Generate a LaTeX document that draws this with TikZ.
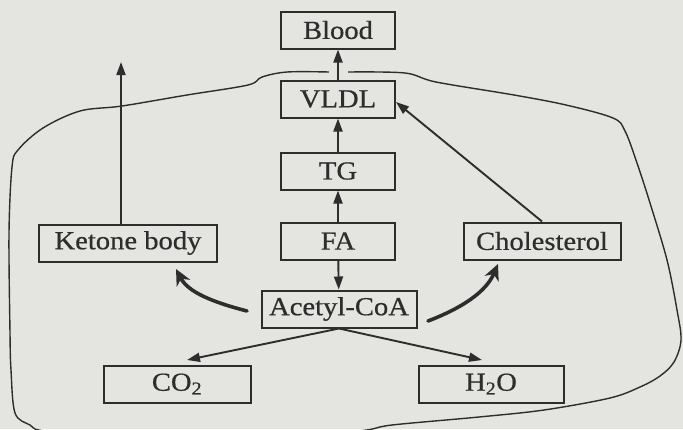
\documentclass[tikz,border=0pt]{standalone}
\usepackage{fontspec}
\setmainfont{Liberation Serif}[FakeStretch=1.1, FakeBold=0.6]
\usetikzlibrary{arrows.meta}
\definecolor{ink}{RGB}{45,45,45}
\definecolor{paper}{RGB}{228,228,224}

\begin{document}
\begin{tikzpicture}[x=1pt,y=-1pt,
  box/.style={draw=ink, line width=2pt, minimum height=37pt, inner sep=0pt,
    text=ink, font=\fontsize{26}{28}\selectfont},
  colbox/.style={box, minimum width=114pt},
  flow/.style={draw=ink, line width=1.9pt, -{Triangle[length=13pt,width=9pt]}},
  swing/.style={draw=ink, line width=3.6pt, line cap=round,
    -{Stealth[length=16pt,width=15pt,inset=5pt]}},
  boundary/.style={draw=ink, line width=1.4pt}]

\fill[paper] (0,0) rectangle (683,429);
\useasboundingbox (0,0) rectangle (683,429);

% central column
\node[colbox] (blood) at (338,30)  {Blood};
\node[colbox] (vldl)  at (338,99)  {VLDL};
\node[colbox] (tg)    at (338,171) {TG};
\node[colbox] (fa)    at (338,241) {FA};
\node[box, minimum width=155pt] (acoa) at (339,309) {Acetyl-CoA};

% side products
\node[box, minimum width=178pt] (ket)  at (128,243) {Ketone body};
\node[box, minimum width=157pt] (chol) at (542,241) {Cholesterol};
\node[box, minimum width=147pt] (co2)  at (177,384) {CO\textsubscript{2}};
\node[box, minimum width=145pt] (h2o)  at (491,384) {H\textsubscript{2}O};

% free ends and arrow targets
\coordinate (ketup)  at (121,62);
\coordinate (co2in)  at (187,360);
\coordinate (h2oin)  at (482,360);
\coordinate (ketin)  at (176,269);
\coordinate (cholin) at (498,264);
\coordinate (aleft)  at (247,311);
\coordinate (aright) at (428,321);

% straight connectors
\draw[flow] (vldl) -- (blood);
\draw[flow] (tg) -- (vldl);
\draw[flow] (fa) -- (tg);
\draw[flow] (fa) -- (acoa);
\draw[flow] (ket.north -| ketup) -- (ketup);
\draw[flow] (chol.north) -- ([yshift=-3pt]vldl.east);
\draw[flow] (acoa.south) -- (co2in);
\draw[flow] (acoa.south) -- (h2oin);

% curved connectors from Acetyl-CoA
\draw[swing] (aleft) .. controls (212,302) and (188,292) .. (ketin);
\draw[swing] (aright) .. controls (462,308) and (486,292) .. (cholin);

% hand-drawn boundary, open above VLDL
\draw[boundary] plot[smooth, tension=0.55] coordinates {
  (348,72) (405,73) (436,82) (514,95) (566,105) (613,118) (625,131)
  (637,163) (650,203) (667,260) (677,310) (681,340) (674,362) (660,376)
  (640,387) (610,398) (544,410) (479,417) (392,425) (357,431) (250,436)
  (120,435) (45,431) (30,425) (15,413) (11,370) (10,333) (9,233)
  (12,167) (18,150) (43,128) (80,111) (122,106) (187,95) (248,85)
  (262,77) (287,72) (329,72)};

\end{tikzpicture}
\end{document}
